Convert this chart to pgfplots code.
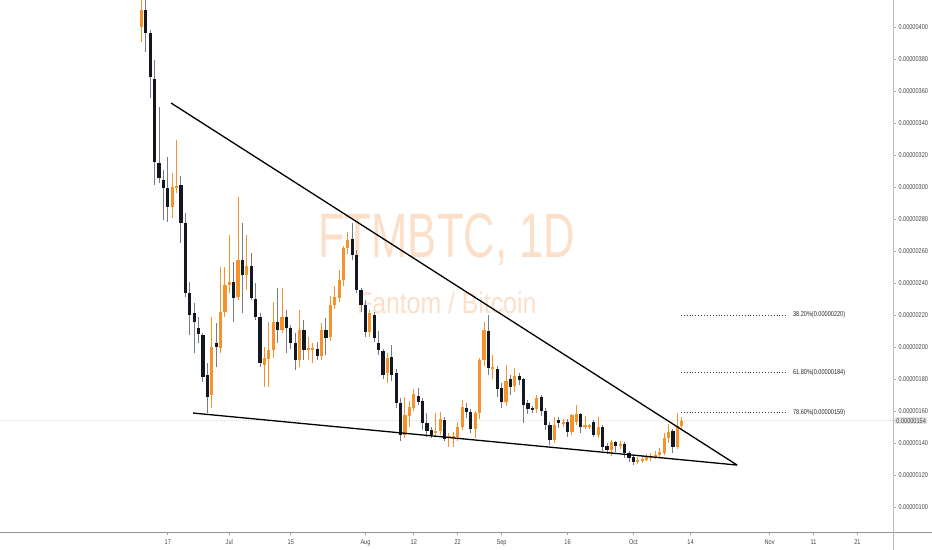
\documentclass[border=0pt]{standalone}
\usepackage{fontspec}
\setmainfont{Liberation Sans}
\usepackage{graphicx}
\usepackage{pgfplots}
\pgfplotsset{compat=1.18}
\usepackage{pgfplotstable}

\definecolor{upc}{RGB}{246,146,44}
\definecolor{dnc}{RGB}{19,23,34}
\definecolor{dnwick}{RGB}{120,123,134}
\definecolor{wm}{RGB}{252,223,200}
\definecolor{axtxt}{RGB}{70,70,70}

\newcommand{\sq}[1]{\scalebox{0.8}[1]{#1}}

% day 0 = 17 Jun; prices in satoshi (1e-8 BTC)
\pgfplotstableread{
d o h l c
-6 400 425 390.6 410.6
1 287.3 308.8 280.6 300.2
2 299.8 329.4 296 300.8
10 170 219 161.9 200.2
12 199.2 250 196 222
13 222 250.2 219 238.8
14 238.8 270 233.5 240.8
16 231.4 294 229.4 254.4
18 245 270 235.6 250.8
22 188.8 200 175.2 193
23 192.5 215.8 175.2 198.1
24 198.1 228.3 192.9 215.8
26 210.6 236.7 208.5 219
30 191.9 223.1 187.7 210.6
32 198.1 206.5 191.9 199.2
33 198.5 202.3 189.8 199.5
35 194.6 215 192 210.6
37 206.4 232 204 226.2
38 226.2 238 224 231
39 230.4 248 228 241.9
40 241.9 263 238 261.7
41 261.7 272 258 266.9
46 209.6 223.1 206.4 221
50 183.5 196 177.3 193
54 145 169 143 157.5
55 156.9 166 150 162.7
56 161.7 173.5 160 170.6
61 146.5 158.5 144 147.3
62 147.7 159.6 145 154.8
64 143.3 146 137.7 144
65 143.5 147 137.7 144.2
66 143.9 153 141 150.2
67 150.2 166.9 148 162.7
70 148.5 160 142.9 158.5
71 158.5 193 155 191.9
72 191.9 215.8 188 210.6
74 186 195 180 187.3
77 165.8 188.7 163 179
79 175.6 186.7 172 181.9
84 161 170 159 167.9
88 141.9 156 140 151.3
90 152.3 155 150 153
92 147 158 145 157.5
93 153.3 163.8 151 158.1
95 150.5 157 149 151.2
96 150.5 152 149 151.3
98 145 156.5 143 149.8
101 135.6 142 132 140.8
103 138.3 141 136 139.2
107 128.4 131 127 129.6
108 129 132 127.5 130.3
109 129.6 133 128.5 131
110 130.5 134 129 131.5
111 131 135 130 132.5
112 132.5 137 131 134.6
113 133.5 146 132.5 143
114 143 152 140 147
116 137.7 158.5 136 150.6
117 150.6 156 148 154
}\upcandles

\pgfplotstableread{
d o h l c
-5 410.6 425 384.6 396.5
-4 396.5 398 355.4 368.6
-3 367.5 379.4 301.3 315.8
-2 315.2 350 302.3 305.4
-1 304.4 310.6 279.4 299.2
0 299.2 319 278.3 287.3
3 301.3 306.9 265 277.3
4 277.3 283.5 231.5 233.6
5 233.6 240.8 207.5 220
6 221 227.5 196 215.8
7 212 219 202.5 208
8 207.5 209 178 181.4
9 182.5 190 158.8 168.9
11 202.5 215 187.5 200
15 240.8 253.3 215.8 230.4
17 254.4 277.3 221 245
19 250.8 258.5 229.4 230.4
20 229.8 239.8 216.9 219
21 219 221 187.7 189.8
25 215.8 236.7 202.3 210.6
27 219 223.1 196 211.7
28 211.7 214 199 202.3
29 202.3 208.5 185.6 191.9
31 210.6 216.9 191.9 198.1
34 198.5 203 192 194.6
36 210.6 217.9 195 205.4
42 267.3 277.3 254.4 257.5
43 257.5 260.6 233.5 235.6
44 235.6 237 222 226.2
45 226.2 229.4 206.4 209.6
47 220 222 203 205.4
48 202.7 210 195 198.1
49 197.7 199 180 182.5
51 194 201.3 179 182.5
52 184 186 162 164.8
53 164.8 168 141 145
57 169.4 174.2 163.8 165.8
58 166.4 168 148 152.3
59 152.7 158.5 144 147.7
60 148.1 150 143 145
63 154.4 156 141 142.3
68 161.7 164.8 155.4 159.6
69 159.6 161 146 148.5
73 210.2 220 182.5 186.7
75 186 188 169 173.6
76 174.2 177.3 161.7 165.8
78 179.8 182.5 170 175.2
80 181.9 184 176 179.4
81 179.8 180.5 152.3 163.8
82 164.8 167 158 161
83 161.6 163 159 160.7
85 168.5 170 157 160.2
86 160.2 162 148 151.3
87 151.3 153 138.5 141.9
89 154.4 156 149.5 152.3
91 153 155 144 147
94 158.1 159 146 149.8
97 153.3 154.5 144 145
99 149.8 151 135 137.7
100 138.1 140 133 135.6
102 140.8 141.5 134.5 138.1
104 139.5 140.5 130.5 133.5
105 133.5 135 128 130.4
106 131 132 126.5 128.4
115 147.7 149 133.5 137.7
}\dncandles

\begin{document}
\begin{tikzpicture}
\begin{axis}[
  at={(0,0)}, anchor=north west,
  scale only axis, width=893bp, height=532bp,
  xmin=-38.2, xmax=165.1, ymin=84.4, ymax=416.9,
  axis x line=bottom, axis y line=right,
  axis line style={draw=none},
  tick align=outside, major tick length=3bp,
  tick style={draw=gray!70, line width=0.6bp},
  xtick={0,14,28,45,56,66,76,91,106,119,137,147,157},
  xticklabels={\sq{17},\sq{Jul},\sq{15},\sq{Aug},\sq{12},\sq{22},\sq{Sep},\sq{16},\sq{Oct},\sq{14},\sq{Nov},\sq{11},\sq{21}},
  ytick={100,120,...,400},
  yticklabels={\sq{0.00000100},\sq{0.00000120},\sq{0.00000140},\sq{0.00000160},\sq{0.00000180},\sq{0.00000200},\sq{0.00000220},\sq{0.00000240},\sq{0.00000260},\sq{0.00000280},\sq{0.00000300},\sq{0.00000320},\sq{0.00000340},\sq{0.00000360},\sq{0.00000380},\sq{0.00000400}},
  extra y ticks={154},
  extra y tick labels={\sq{0.00000154}},
  extra y tick style={yticklabel style={fill=gray!22, inner sep=1.2bp}},
  ticklabel style={font=\fontsize{7}{8}\selectfont, text=axtxt},
  yticklabel style={xshift=-1bp},
  xticklabel style={yshift=-1bp},
  clip=true,
]
% watermark
\node[anchor=base, text=wm, font=\fontsize{63}{63}\selectfont] at (axis cs:63.5,255.9) {\scalebox{0.695}[1]{FTMBTC, 1D}};
\node[anchor=base, text=wm, font=\fontsize{30}{30}\selectfont] at (axis cs:63.5,221.1) {\scalebox{0.83}[1]{Fantom / Bitcoin}};

% last price line
\addplot[gray!25, line width=0.5bp, dash pattern=on 1bp off 1bp, forget plot] coordinates {(-38.2,154) (165.1,154)};

% wicks
\addplot[draw=none, mark=none, forget plot,
  error bars/.cd, y dir=plus, y explicit, error mark=none,
  error bar style={draw=upc, line width=1bp, solid}]
  table[x=d, y=l, y error expr=\thisrow{h}-\thisrow{l}] {\upcandles};
\addplot[draw=none, mark=none, forget plot,
  error bars/.cd, y dir=plus, y explicit, error mark=none,
  error bar style={draw=dnwick, line width=1bp, solid}]
  table[x=d, y=l, y error expr=\thisrow{h}-\thisrow{l}] {\dncandles};
% bodies
\addplot[draw=none, mark=none, forget plot,
  error bars/.cd, y dir=both, y explicit, error mark=none,
  error bar style={draw=upc, line width=3.2bp, solid, line cap=butt}]
  table[x=d, y expr={(\thisrow{o}+\thisrow{c})/2}, y error expr={max(abs(\thisrow{c}-\thisrow{o})/2,0.5)}] {\upcandles};
\addplot[draw=none, mark=none, forget plot,
  error bars/.cd, y dir=both, y explicit, error mark=none,
  error bar style={draw=dnc, line width=3.2bp, solid, line cap=butt}]
  table[x=d, y expr={(\thisrow{o}+\thisrow{c})/2}, y error expr={max(abs(\thisrow{c}-\thisrow{o})/2,0.5)}] {\dncandles};

% wedge
\addplot[black, line width=1.3bp] coordinates {(0.75,352.5) (129.6,126.25)};
\addplot[black, line width=1.3bp] coordinates {(5.76,158.75) (129.6,126.25)};

% fib levels
\addplot[black!80, line width=0.9bp, dash pattern=on 0.9bp off 2bp] coordinates {(116.8,220) (141.2,220)};
\addplot[black!80, line width=0.9bp, dash pattern=on 0.9bp off 2bp] coordinates {(116.8,184) (141.2,184)};
\addplot[black!80, line width=0.9bp, dash pattern=on 0.9bp off 2bp] coordinates {(116.8,159) (141.2,159)};
\node[anchor=west, inner sep=0pt, text=black!85, font=\fontsize{7}{8}\selectfont] at (axis cs:142.3,220) {\sq{38.20\%(0.00000220)}};
\node[anchor=west, inner sep=0pt, text=black!85, font=\fontsize{7}{8}\selectfont] at (axis cs:142.3,184) {\sq{61.80\%(0.00000184)}};
\node[anchor=west, inner sep=0pt, text=black!85, font=\fontsize{7}{8}\selectfont] at (axis cs:142.3,159) {\sq{78.60\%(0.00000159)}};
\end{axis}
\draw[gray!85, line width=0.7bp] (0,-532bp) -- (932bp,-532bp);
\draw[gray!55, line width=0.7bp] (893bp,0) -- (893bp,-550bp);
\pgfresetboundingbox
\path[use as bounding box] (0,0) rectangle (932bp,-550bp);
\end{tikzpicture}
\end{document}
